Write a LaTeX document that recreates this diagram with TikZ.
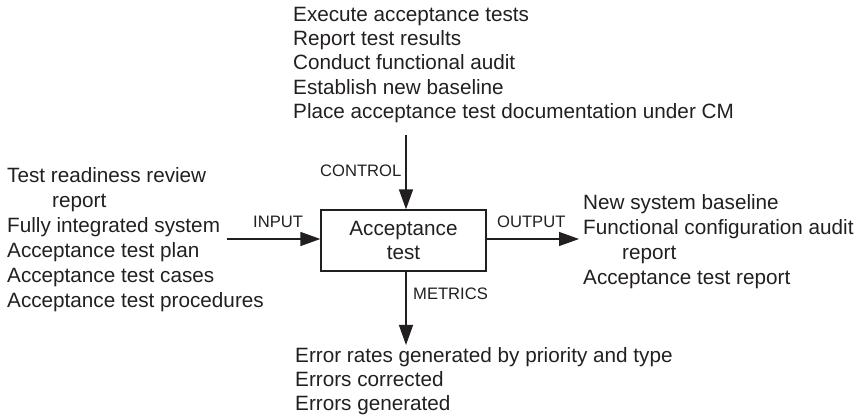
\documentclass[tikz,border=0pt]{standalone}
\usepackage{fontspec}
\setmainfont{Liberation Sans}
\usetikzlibrary{arrows.meta}
\definecolor{ink}{HTML}{231F20}
\begin{document}
\begin{tikzpicture}[x=1pt,y=-1pt,
  txt/.style={inner sep=0pt,anchor=base west,text=ink,font=\fontsize{20.7}{24}\selectfont},
  lbl/.style={inner sep=0pt,anchor=base west,text=ink,font=\fontsize{16.6}{19}\selectfont},
  conn/.style={draw=ink,line width=1.4pt,-{Triangle[length=20pt,width=14pt]}},
  procbox/.style={draw=ink,line width=1.3pt,minimum width=165pt,minimum height=61pt,inner sep=0pt,text=ink,align=center,font=\fontsize{20.7}{24}\selectfont}]
\useasboundingbox (0,0) rectangle (860,419);
% process box
\node[procbox] (box) at (403.5,240.5) {Acceptance\\test};
% top (control) texts
\node[txt] (c1) at (293,21.7) {Execute acceptance tests};
\node[txt] (c2) at (293,45.9) {Report test results};
\node[txt] (c3) at (293,70.0) {Conduct functional audit};
\node[txt] (c4) at (293,94.2) {Establish new baseline};
\node[txt] (c5) at (293,118.3) {Place acceptance test documentation under CM};
% left (input) texts
\node[txt] (i1) at (7,182.3) {Test readiness review};
\node[txt] (i2) at (52,207.3) {report};
\node[txt] (i3) at (7,232.5) {Fully integrated system};
\node[txt] (i4) at (7,257.6) {Acceptance test plan};
\node[txt] (i5) at (7,282.7) {Acceptance test cases};
\node[txt] (i6) at (7,307.7) {Acceptance test procedures};
% right (output) texts
\node[txt] (o1) at (583,209.3) {New system baseline};
\node[txt] (o2) at (583,234.5) {Functional configuration audit};
\node[txt] (o3) at (622,259.7) {report};
\node[txt] (o4) at (583,285) {Acceptance test report};
% bottom (metrics) texts
\node[txt] (m1) at (295,362.5) {Error rates generated by priority and type};
\node[txt] (m2) at (295,386.5) {Errors corrected};
\node[txt] (m3) at (295,410.5) {Errors generated};
% connector end points
\coordinate (ctop) at (406,135);
\coordinate (inL) at (227,239);
\coordinate (outR) at (579,239);
\coordinate (mbot) at (406,345);
% connectors
\draw[conn] (ctop) -- (ctop |- box.north);
\draw[conn] (inL) -- (box.west |- inL);
\draw[conn] (box.east |- outR) -- (outR);
\draw[conn] (mbot |- box.south) -- (mbot);
% connector labels
\node[lbl] (lc) at (320,176.7) {CONTROL};
\node[lbl] (li) at (253,227.7) {INPUT};
\node[lbl] (lo) at (497,227.7) {OUTPUT};
\node[lbl] (lm) at (413,299.4) {METRICS};
\end{tikzpicture}
\end{document}
